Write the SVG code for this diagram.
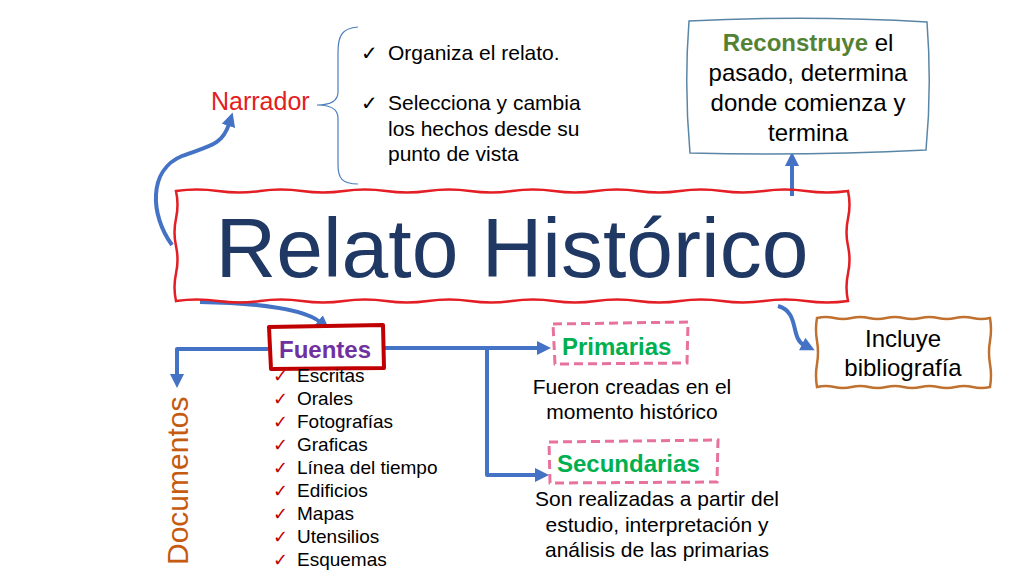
<svg xmlns="http://www.w3.org/2000/svg" width="1024" height="576" viewBox="0 0 1024 576">
<defs>
<marker id="ah" markerUnits="userSpaceOnUse" markerWidth="16" markerHeight="16" refX="2" refY="7" orient="auto">
<path d="M0,0 L14,7 L0,14 Z" fill="#4472C4"/>
</marker>
<style>
.t{font-family:"Liberation Sans",Arial,sans-serif;fill:#000}
.ck{font-family:"DejaVu Sans",sans-serif}
.conn{fill:none;stroke:#4472C4;stroke-width:4;stroke-linejoin:round}
.dash{fill:none;stroke:#E7729E;stroke-width:3;stroke-dasharray:9 5}
.green{font-weight:bold;fill:#00B050}
</style>
</defs>
<rect width="1024" height="576" fill="#fff"/>

<g id="connectors">
<path class="conn" d="M172,245 C150,215 148,170 182,156 C208,146 222,146 229,124" marker-end="url(#ah)"/>
<path class="conn" d="M792,196 L792,164" marker-end="url(#ah)"/>
<path class="conn" d="M200,302 C262,303 305,310 320,322" marker-end="url(#ah)"/>
<path class="conn" d="M268,349 L177,349 L177,376" marker-end="url(#ah)"/>
<path class="conn" d="M383,348 L539,348" marker-end="url(#ah)"/>
<path class="conn" d="M487,348 L487,475 L537,475" marker-end="url(#ah)"/>
<path class="conn" d="M778,306 C800,312 790,338 804,345" marker-end="url(#ah)"/>
</g>

<g id="narrador">
<text class="t" x="211" y="110" font-size="25" style="fill:#E3201E">Narrador</text>
<path d="M358,27 C342,28 338,36 338,52 L338,92 C338,101 330,105 317,105 C330,105 338,109 338,118 L338,165 C338,178 342,184 358,184" fill="none" stroke="#4A7EBB" stroke-width="1.2"/>
<text class="ck" x="361" y="60" font-size="20">✓</text>
<text class="t" x="388" y="60" font-size="21">Organiza el relato.</text>
<text class="ck" x="361" y="110" font-size="20">✓</text>
<text class="t" x="388" y="110" font-size="21">Selecciona y cambia</text>
<text class="t" x="388" y="136" font-size="21">los hechos desde su</text>
<text class="t" x="388" y="161" font-size="21">punto de vista</text>
</g>

<g id="reconstruye">
<path d="M689,21 Q808,15 927,22 Q932,87 926,150 Q808,156 690,153 Q684,87 689,21 Z" fill="#fff" stroke="#5A86A6" stroke-width="1.5"/>
<text class="t" x="808" y="51" font-size="24" text-anchor="middle"><tspan font-weight="bold" style="fill:#548235">Reconstruye</tspan> el</text>
<text class="t" x="808" y="81" font-size="24" text-anchor="middle">pasado, determina</text>
<text class="t" x="808" y="111" font-size="24" text-anchor="middle">donde comienza y</text>
<text class="t" x="808" y="141" font-size="24" text-anchor="middle">termina</text>
</g>

<g id="relato">
<path d="M176,191 q21,-3 42,0 t42,0 t42,0 t42,0 t42,0 t42,0 t42,0 t42,0 t42,0 t42,0 t42,0 t42,0 t42,0 t42,0 t42,0 t42,0 q3,13.75 0,27.5 t0,27.5 t0,27.5 t0,27.5 q-21,3 -42,0 t-42,0 t-42,0 t-42,0 t-42,0 t-42,0 t-42,0 t-42,0 t-42,0 t-42,0 t-42,0 t-42,0 t-42,0 t-42,0 t-42,0 t-42,0 q-3,-13.75 0,-27.5 t0,-27.5 t0,-27.5 t0,-27.5 Z" fill="none" stroke="#E31E24" stroke-width="2.5"/>
<text class="t" x="512" y="277" font-size="84" text-anchor="middle" style="fill:#1F3864">Relato Histórico</text>
</g>

<g id="fuentes">
<path d="M269,327 L383,325 L384,368 L271,369 Z" fill="#fff" stroke="#C00000" stroke-width="4" stroke-linejoin="round"/>
<text class="t" x="325" y="358" font-size="24" font-weight="bold" text-anchor="middle" style="fill:#7030A0">Fuentes</text>
<g class="ck" font-size="18" fill="#C00000">
<text x="273" y="382">✓</text>
<text x="273" y="405">✓</text>
<text x="273" y="428">✓</text>
<text x="273" y="451">✓</text>
<text x="273" y="474">✓</text>
<text x="273" y="497">✓</text>
<text x="273" y="520">✓</text>
<text x="273" y="543">✓</text>
<text x="273" y="566">✓</text>
</g>
<g class="t" font-size="19">
<text x="297" y="382">Escritas</text>
<text x="297" y="405">Orales</text>
<text x="297" y="428">Fotografías</text>
<text x="297" y="451">Graficas</text>
<text x="297" y="474">Línea del tiempo</text>
<text x="297" y="497">Edificios</text>
<text x="297" y="520">Mapas</text>
<text x="297" y="543">Utensilios</text>
<text x="297" y="566">Esquemas</text>
</g>
</g>

<g id="documentos">
<text class="t" transform="translate(188,565) rotate(-90)" font-size="30" style="fill:#C55A11">Documentos</text>
</g>

<g id="primarias">
<path class="dash" d="M553,324 L688,322 L687,363 L555,364 Z"/>
<text class="t green" x="562" y="355" font-size="24">Primarias</text>
<text class="t" x="632" y="394" font-size="21" text-anchor="middle">Fueron creadas en el</text>
<text class="t" x="632" y="419" font-size="21" text-anchor="middle">momento histórico</text>
</g>

<g id="secundarias">
<path class="dash" d="M549,442 L718,440 L717,482 L550,483 Z"/>
<text class="t green" x="557" y="472" font-size="24">Secundarias</text>
<text class="t" x="657" y="506" font-size="21" text-anchor="middle">Son realizadas a partir del</text>
<text class="t" x="657" y="532" font-size="21" text-anchor="middle">estudio, interpretación y</text>
<text class="t" x="657" y="557" font-size="21" text-anchor="middle">análisis de las primarias</text>
</g>

<g id="incluye">
<path d="M817,318 q8.65,-2 17.3,0 t17.3,0 t17.3,0 t17.3,0 t17.3,0 t17.3,0 t17.3,0 t17.3,0 t17.3,0 t17.3,0 q2,11.5 0,23 t0,23 t0,23 q-8.65,2 -17.3,0 t-17.3,0 t-17.3,0 t-17.3,0 t-17.3,0 t-17.3,0 t-17.3,0 t-17.3,0 t-17.3,0 t-17.3,0 q-2,-11.5 0,-23 t0,-23 t0,-23 Z" fill="#fff" stroke="#C0712F" stroke-width="2.5"/>
<text class="t" x="903" y="347" font-size="24" text-anchor="middle">Incluye</text>
<text class="t" x="903" y="376" font-size="24" text-anchor="middle">bibliografía</text>
</g>
</svg>
